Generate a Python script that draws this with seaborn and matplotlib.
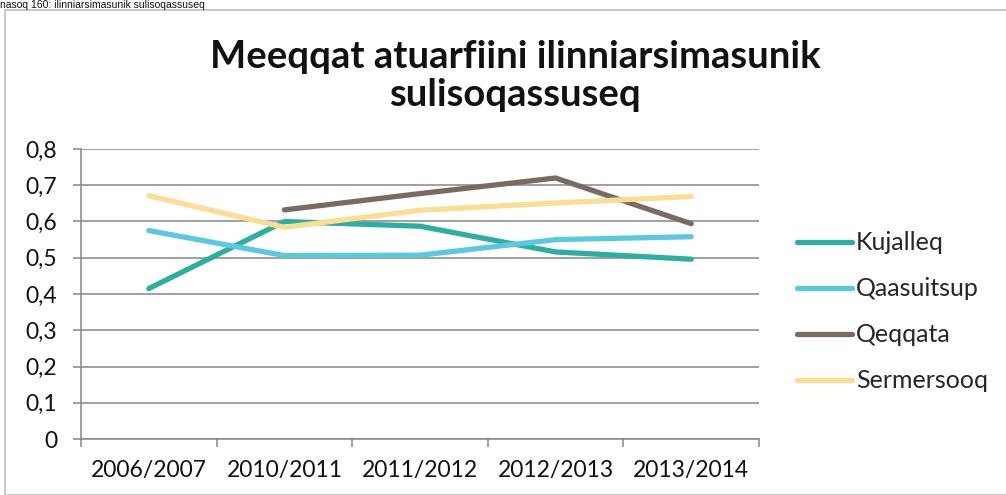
import matplotlib
matplotlib.use("Agg")
import matplotlib.pyplot as plt
import seaborn as sns
import pandas as pd
import numpy as np
from matplotlib.ticker import FixedLocator, FuncFormatter
from matplotlib.patches import Rectangle
from matplotlib.lines import Line2D

years = ["2006/2007", "2010/2011", "2011/2012", "2012/2013", "2013/2014"]
kujalleq = [0.415, 0.600, 0.587, 0.516, 0.496]
qaasuitsup = [0.575, 0.506, 0.507, 0.550, 0.558]
qeqqata = [np.nan, 0.632, 0.677, 0.720, 0.594]
sermersooq = [0.671, 0.584, 0.631, 0.651, 0.669]
series_names = ["Kujalleq", "Qaasuitsup", "Qeqqata", "Sermersooq"]
colors = ["#2BB09F", "#5BC8E2", "#7A6A62", "#FBDD93"]

rows = []
for name, vals in zip(series_names, [kujalleq, qaasuitsup, qeqqata, sermersooq]):
    for i, (y, v) in enumerate(zip(years, vals)):
        rows.append({"pos": i, "year": y, "region": name, "value": v})
df = pd.DataFrame(rows).dropna()

sns.set_theme(style="white")
plt.rcParams["font.family"] = ["Lato", "DejaVu Sans"]

fig = plt.figure(figsize=(10.06, 4.95), dpi=100)
W, H = 1006, 495

# outer chart frame
fig.patches.append(Rectangle((5 / W, 0), 1.2, 1 - 10 / H, transform=fig.transFigure,
                             fill=False, edgecolor="#BFBFBF", lw=1.2))
# caption at top
fig.text(0.0, 1.0, "nasoq 160: ilinniarsimasunik sulisoqassuseq",
         family=["Liberation Sans", "DejaVu Sans"], fontsize=7.5, color="#111111",
         ha="left", va="top")

ax = fig.add_axes([81 / W, (H - 439) / H, 678 / W, 290 / H])
pal = dict(zip(series_names, colors))
sns.lineplot(data=df, x="pos", y="value", hue="region", palette=pal, hue_order=series_names,
             lw=3.8, ax=ax, legend=False, solid_capstyle="round", sort=True)

ax.set_xlim(-0.5, 4.5)
ax.set_ylim(0, 0.8)
ax.set_xlabel("")
ax.set_ylabel("")

ax.yaxis.set_major_locator(FixedLocator(np.arange(0, 0.81, 0.1)))
ax.yaxis.set_major_formatter(FuncFormatter(lambda v, p: "0" if abs(v) < 1e-9 else f"{v:.1f}".replace(".", ",")))
ax.grid(axis="y", color="#868686", lw=1.1)
ax.set_axisbelow(True)

ax.set_xticks(range(len(years)))
ax.set_xticklabels(years)
ax.set_xticks(np.arange(-0.5, 4.6, 1), minor=True)
ax.tick_params(axis="x", which="major", length=0, pad=15, labelsize=16.5, colors="#111111")
ax.tick_params(axis="x", which="minor", length=6, width=1.1, color="#868686", direction="out", bottom=True)
ax.tick_params(axis="y", which="major", length=6, width=1.1, color="#868686", direction="out", left=True,
               pad=11, labelsize=16.5, labelcolor="#111111")

for s in ["top", "right"]:
    ax.spines[s].set_visible(False)
for s in ["left", "bottom"]:
    ax.spines[s].set_visible(True)
    ax.spines[s].set_color("#868686")
    ax.spines[s].set_linewidth(1.1)

fig.text(515 / W, 1 - 76 / H, "Meeqqat atuarfiini ilinniarsimasunik\nsulisoqassuseq",
         ha="center", va="center", fontsize=27.5, fontweight="bold", color="#111111",
         linespacing=1.12)

handles = [Line2D([0], [0], color=c, lw=3.8, solid_capstyle="round") for c in colors]
leg = fig.legend(handles, series_names, loc="center left", bbox_to_anchor=(797 / W, 1 - 312 / H),
                 frameon=False, fontsize=18, handlelength=2.2, handletextpad=0.15,
                 labelspacing=0.92, borderaxespad=0, borderpad=0)

fig.savefig("out.png", dpi=100)
